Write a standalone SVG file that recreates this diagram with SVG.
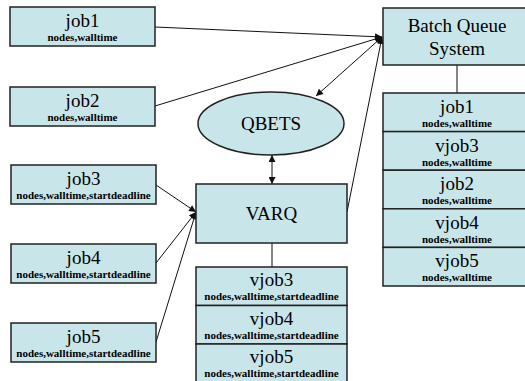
<svg xmlns="http://www.w3.org/2000/svg" width="525" height="381" viewBox="0 0 525 381">
<style>
.box{fill:#c8e6e9;stroke:#222;stroke-width:1.5}
.con{stroke:#111;stroke-width:1;fill:none}
.plain{stroke:#333;stroke-width:1.2;fill:none}
</style>
<defs>
<marker id="ah" viewBox="0 0 10 10" refX="10" refY="5" markerWidth="8" markerHeight="7" markerUnits="userSpaceOnUse" orient="auto-start-reverse">
<path d="M0,0 L10,5 L0,10 z" fill="#111"/>
</marker>
</defs>
<rect width="525" height="381" fill="#fff"/>
<g id="connectors">
<line class="con" x1="155" y1="27" x2="382" y2="37" marker-end="url(#ah)"/>
<line class="con" x1="155" y1="106" x2="382" y2="37" marker-end="url(#ah)"/>
<line class="con" x1="316" y1="96" x2="382" y2="37" marker-start="url(#ah)" marker-end="url(#ah)"/>
<line class="con" x1="347" y1="212" x2="382" y2="37" marker-end="url(#ah)"/>
<line class="con" x1="156" y1="185" x2="196" y2="212" marker-end="url(#ah)"/>
<line class="con" x1="156" y1="263" x2="196" y2="212" marker-end="url(#ah)"/>
<line class="con" x1="156" y1="342" x2="196" y2="212" marker-end="url(#ah)"/>
<line class="con" x1="272" y1="155" x2="272" y2="184" marker-start="url(#ah)" marker-end="url(#ah)"/>
<line class="plain" x1="272" y1="243" x2="272" y2="267"/>
<line class="plain" x1="457" y1="65" x2="457" y2="93"/>
</g>
<g id="job1"><rect class="box" x="10" y="7" width="145" height="39"/><text font-family="Times New Roman" font-size="19" text-anchor="middle" x="82.5" y="27">job1</text><text font-family="Times New Roman" font-size="11" font-weight="bold" text-anchor="middle" x="82.5" y="41">nodes,walltime</text></g>
<g id="job2"><rect class="box" x="10" y="87" width="145" height="39"/><text font-family="Times New Roman" font-size="19" text-anchor="middle" x="82.5" y="107">job2</text><text font-family="Times New Roman" font-size="11" font-weight="bold" text-anchor="middle" x="82.5" y="121">nodes,walltime</text></g>
<g id="job3"><rect class="box" x="11" y="165" width="145" height="39"/><text font-family="Times New Roman" font-size="19" text-anchor="middle" x="83.5" y="185">job3</text><text font-family="Times New Roman" font-size="11" font-weight="bold" text-anchor="middle" x="83.5" y="199">nodes,walltime,startdeadline</text></g>
<g id="job4"><rect class="box" x="11" y="244" width="145" height="39"/><text font-family="Times New Roman" font-size="19" text-anchor="middle" x="83.5" y="264">job4</text><text font-family="Times New Roman" font-size="11" font-weight="bold" text-anchor="middle" x="83.5" y="278">nodes,walltime,startdeadline</text></g>
<g id="job5"><rect class="box" x="11" y="323" width="145" height="39"/><text font-family="Times New Roman" font-size="19" text-anchor="middle" x="83.5" y="343">job5</text><text font-family="Times New Roman" font-size="11" font-weight="bold" text-anchor="middle" x="83.5" y="357">nodes,walltime,startdeadline</text></g>
<g id="bqs"><rect class="box" x="383" y="8" width="148" height="57"/><text font-family="Times New Roman" font-size="19" text-anchor="middle" x="457" y="32">Batch Queue</text><text font-family="Times New Roman" font-size="19" text-anchor="middle" x="457" y="55">System</text></g>
<g id="bqs-queue">
<rect class="box" x="383" y="93" width="148" height="38.6"/><text font-family="Times New Roman" font-size="19" text-anchor="middle" x="457" y="113">job1</text><text font-family="Times New Roman" font-size="11" font-weight="bold" text-anchor="middle" x="457" y="127">nodes,walltime</text>
<rect class="box" x="383" y="131.6" width="148" height="38.6"/><text font-family="Times New Roman" font-size="19" text-anchor="middle" x="457" y="151.6">vjob3</text><text font-family="Times New Roman" font-size="11" font-weight="bold" text-anchor="middle" x="457" y="165.6">nodes,walltime</text>
<rect class="box" x="383" y="170.2" width="148" height="38.6"/><text font-family="Times New Roman" font-size="19" text-anchor="middle" x="457" y="190.2">job2</text><text font-family="Times New Roman" font-size="11" font-weight="bold" text-anchor="middle" x="457" y="204.2">nodes,walltime</text>
<rect class="box" x="383" y="208.8" width="148" height="38.6"/><text font-family="Times New Roman" font-size="19" text-anchor="middle" x="457" y="228.8">vjob4</text><text font-family="Times New Roman" font-size="11" font-weight="bold" text-anchor="middle" x="457" y="242.8">nodes,walltime</text>
<rect class="box" x="383" y="247.4" width="148" height="38.6"/><text font-family="Times New Roman" font-size="19" text-anchor="middle" x="457" y="267.4">vjob5</text><text font-family="Times New Roman" font-size="11" font-weight="bold" text-anchor="middle" x="457" y="281.4">nodes,walltime</text>
</g>
<g id="qbets"><ellipse class="box" cx="271" cy="123.5" rx="73" ry="31.5"/><text font-family="Times New Roman" font-size="19" text-anchor="middle" x="271" y="130">QBETS</text></g>
<g id="varq"><rect class="box" x="196" y="184" width="151" height="59"/><text font-family="Times New Roman" font-size="19" text-anchor="middle" x="271.5" y="220">VARQ</text></g>
<g id="varq-queue">
<rect class="box" x="196" y="267" width="151" height="38.5"/><text font-family="Times New Roman" font-size="19" text-anchor="middle" x="271.5" y="286">vjob3</text><text font-family="Times New Roman" font-size="11" font-weight="bold" text-anchor="middle" x="271.5" y="300">nodes,walltime,startdeadline</text>
<rect class="box" x="196" y="305.5" width="151" height="38.5"/><text font-family="Times New Roman" font-size="19" text-anchor="middle" x="271.5" y="324.5">vjob4</text><text font-family="Times New Roman" font-size="11" font-weight="bold" text-anchor="middle" x="271.5" y="338.5">nodes,walltime,startdeadline</text>
<rect class="box" x="196" y="344" width="151" height="38.5"/><text font-family="Times New Roman" font-size="19" text-anchor="middle" x="271.5" y="363">vjob5</text><text font-family="Times New Roman" font-size="11" font-weight="bold" text-anchor="middle" x="271.5" y="377">nodes,walltime,startdeadline</text>
</g>
</svg>
